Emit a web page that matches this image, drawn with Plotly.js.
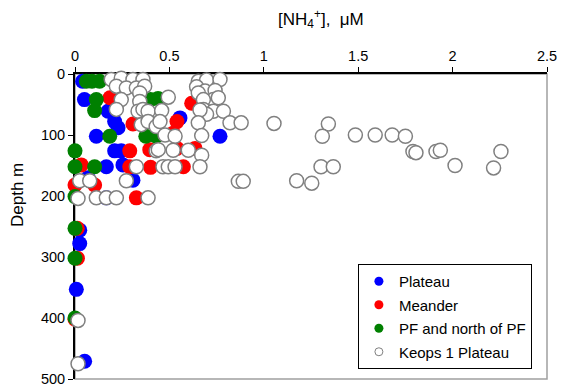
<!DOCTYPE html>
<html>
<head>
<meta charset="utf-8">
<script src="https://cdn.plot.ly/plotly-3.0.1.min.js"></script>
<style>
  html, body { margin: 0; padding: 0; background: #ffffff; }
  #chart { width: 562px; height: 392px; }
</style>
</head>
<body>
<div id="chart"></div>
<script>
// Ammonium concentration profiles, [NH4+] (µM) against depth (m)
const seriesNames = ['Plateau', 'Meander', 'PF and north of PF', 'Keops 1 Plateau'];

const plateauNH4 = [0.04, 0.05, 0.175, 0.21, 0.228, 0.556, 0.113, 0.768, 0.21, 0.245, 0.166, 0.254, 0.069, 0.307, 0.166, 0.025, 0.025, 0.007, 0.051];
const plateauDepth = [12, 42, 61, 78, 88, 72, 102, 102, 126, 126, 152, 149, 170, 174, 203, 256, 278, 353, 471];

const meanderNH4 = [0.185, 0.618, 0.307, 0.54, 0.52, 0.29, 0.396, 0.54, 0.636, 0.033, 0.29, 0.40, 0.574, 0.0, 0.104, 0.325, 0.012, 0.013, 0.0];
const meanderDepth = [39, 48, 82, 78, 97, 126, 124, 122, 122, 149, 152, 153, 152, 182, 182, 203, 253, 302, 402];

const pfNH4 = [0.06, 0.09, 0.13, 0.113, 0.104, 0.184, 0.40, 0.44, 0.375, 0.43, 0.0, 0.0, 0.104, 0.0, 0.0, 0.0, 0.0];
const pfDepth = [12, 12, 12, 42, 60, 102, 42, 40, 102, 102, 126, 152, 152, 201, 253, 302, 400];

const keopsNH4 = [
  0.192, 0.245, 0.219, 0.307, 0.36, 0.272, 0.325, 0.369,
  0.653, 0.697, 0.768, 0.644, 0.689, 0.742, 0.653, 0.733, 0.68, 0.759,
  0.245, 0.343, 0.343, 0.494,
  0.219, 0.334, 0.36, 0.387, 0.459, 0.68, 0.733, 0.786, 0.697, 0.662,
  0.351, 0.387, 0.43, 0.45, 0.653, 0.821, 0.88, 1.054, 1.342,
  0.477, 0.53, 0.671, 1.31, 1.485, 1.59, 1.68, 1.75,
  0.43, 0.441, 0.52, 0.6, 0.671, 1.79, 1.806, 1.912, 1.935, 2.256,
  0.325, 0.466, 0.494, 0.53, 0.662, 1.303, 1.368, 2.013, 2.217,
  0.025, 0.078, 0.272, 0.865, 0.891, 1.174, 1.254,
  0.016, 0.113, 0.166, 0.219, 0.387,
  0.016, 0.016
];
const keopsDepth = [
  9, 7, 20, 9, 9, 23, 23, 20,
  12, 10, 9, 21, 28, 27, 31, 42, 42, 39,
  42, 31, 45, 38,
  58, 61, 58, 61, 60, 58, 61, 61, 66, 59,
  83, 78, 86, 78, 80, 80, 80, 81, 82,
  100, 102, 101, 102, 100, 100, 100, 102,
  126, 124, 125, 125, 133, 127, 129, 127, 125, 127,
  152, 152, 152, 152, 152, 152, 152, 150, 154,
  175, 175, 175, 176, 176, 175, 179,
  204, 203, 203, 203, 203,
  404, 475
];

const xTicks = [0, 0.5, 1, 1.5, 2, 2.5];
const xTickText = ['0', '0.5', '1', '1.5', '2', '2.5'];
const yTicks = [0, 100, 200, 300, 400, 500];
const yTickText = ['0', '100', '200', '300', '400', '500'];

const FONT = 'Liberation Sans, Arial, sans-serif';
const fills = ['#0000ff', '#ff0000', '#008000'];
const ringColor = '#808080';

const xs = [plateauNH4, meanderNH4, pfNH4, keopsNH4];
const ys = [plateauDepth, meanderDepth, pfDepth, keopsDepth];

const traces = [];
// data points
for (let i = 0; i < 4; i++) {
  const open = i === 3;
  traces.push({
    type: 'scatter', mode: 'markers',
    x: xs[i], y: ys[i],
    name: seriesNames[i],
    showlegend: false,
    cliponaxis: false,
    hoverinfo: 'x+y',
    marker: open
      ? { symbol: 'circle', size: 14, color: '#ffffff', line: { color: ringColor, width: 1.5 } }
      : { symbol: 'circle', size: 15, color: fills[i], line: { color: fills[i], width: 0 } }
  });
}
// small legend keys
for (let i = 0; i < 4; i++) {
  const open = i === 3;
  traces.push({
    type: 'scatter', mode: 'markers',
    x: [null], y: [null],
    name: seriesNames[i],
    legendgroup: 'g' + i,
    showlegend: true,
    marker: open
      ? { symbol: 'circle', size: 8, color: '#ffffff', line: { color: ringColor, width: 1 } }
      : { symbol: 'circle', size: 9, color: fills[i], line: { width: 0 } }
  });
}

const layout = {
  width: 562, height: 392,
  margin: { l: 75, r: 15, t: 74, b: 13, pad: 0 },
  paper_bgcolor: '#ffffff', plot_bgcolor: '#ffffff',
  font: { family: FONT, size: 15, color: '#000000' },
  showlegend: true,
  title: {
    text: '[NH<sub>4</sub><sup>+</sup>],  μM',
    font: { family: FONT, size: 17, color: '#000000' },
    xref: 'paper', x: 0.521, xanchor: 'center',
    yref: 'container', y: 0.952, yanchor: 'middle'
  },
  xaxis: {
    side: 'top', range: [0, 2.5], autorange: false,
    tickmode: 'array', tickvals: xTicks, ticktext: xTickText,
    ticks: 'outside', ticklen: 5, tickwidth: 1, tickcolor: '#000000',
    showline: true, linecolor: '#000000', linewidth: 2,
    showgrid: false, zeroline: false, layer: 'below traces',
    tickfont: { family: FONT, size: 14.5, color: '#000000' }
  },
  yaxis: {
    range: [500, 0], autorange: false,
    tickmode: 'array', tickvals: yTicks, ticktext: yTickText,
    ticks: 'outside', ticklen: 5, tickwidth: 1, tickcolor: '#000000',
    showline: true, linecolor: '#000000', linewidth: 2,
    showgrid: false, zeroline: false, layer: 'below traces',
    tickfont: { family: FONT, size: 14.5, color: '#000000' }
  },
  shapes: [{
    type: 'rect', xref: 'paper', yref: 'paper', x0: 0, x1: 1, y0: 0, y1: 1,
    line: { color: '#a0a0a0', width: 1.5 }, fillcolor: 'rgba(0,0,0,0)', layer: 'below'
  }],
  annotations: [{
    text: 'Depth m', textangle: -90, showarrow: false,
    xref: 'paper', yref: 'paper', x: -0.123, y: 0.603,
    xanchor: 'center', yanchor: 'middle',
    font: { family: FONT, size: 17, color: '#000000' }
  }],
  legend: {
    x: 0.968, xanchor: 'right', y: 0.377, yanchor: 'top',
    bgcolor: '#ffffff', bordercolor: '#000000', borderwidth: 1,
    font: { family: FONT, size: 15, color: '#000000' },
    traceorder: 'grouped', tracegroupgap: 1, itemwidth: 30
  }
};

Plotly.newPlot('chart', traces, layout, { displayModeBar: false, staticPlot: true });
</script>
</body>
</html>
